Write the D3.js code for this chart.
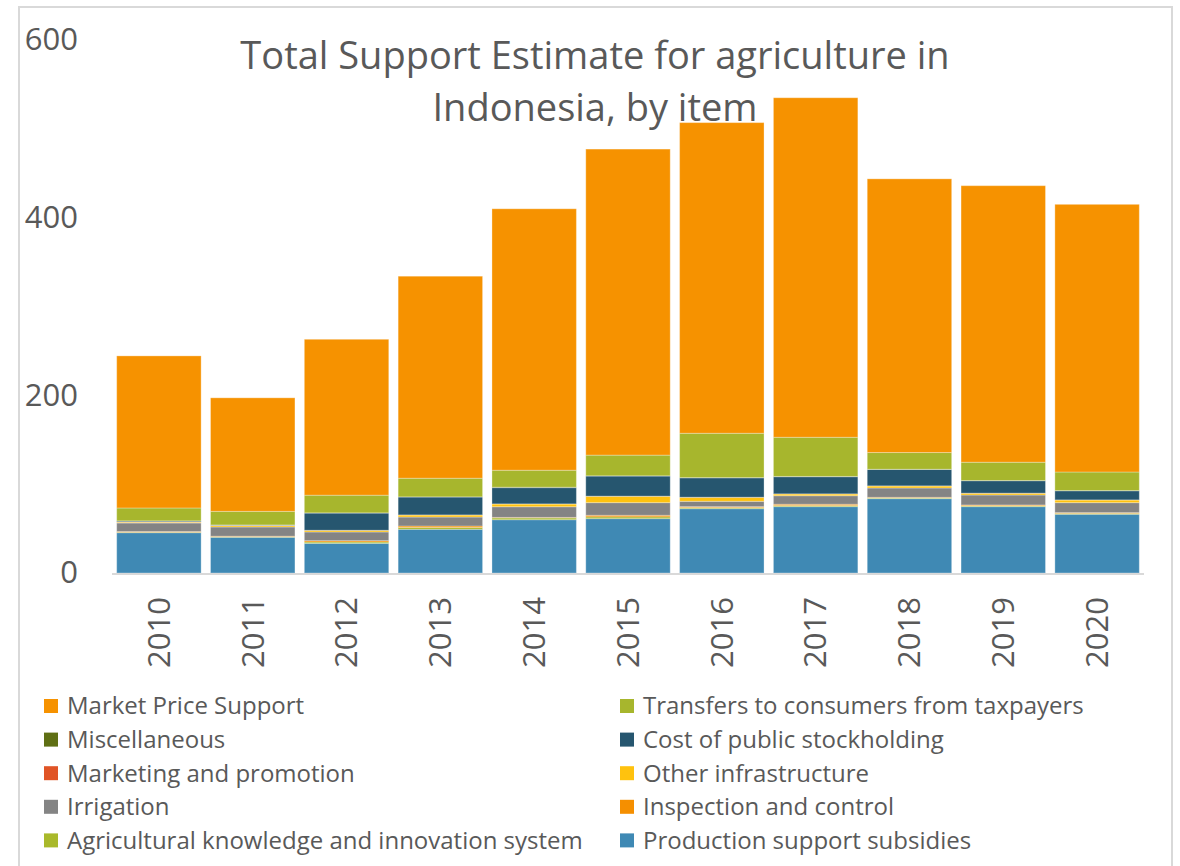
<!DOCTYPE html>
<html>
<head>
<meta charset="utf-8">
<script src="https://cdn.jsdelivr.net/npm/d3@7"></script>
<style>
  body { margin: 0; background: #fff; }
  svg { display: block; font-family: "Open Sans", sans-serif; }
</style>
</head>
<body>
<script>
// Years on the x axis
const years = ["2010", "2011", "2012", "2013", "2014", "2015", "2016", "2017", "2018", "2019", "2020"];

// Series, bottom of the stack first
const production   = [45.4, 40.2, 33.4, 49.2, 60.0, 61.2, 72.4, 74.7, 83.7, 74.7, 66.1];
const akis         = [0.5, 0.6, 1.5, 2.0, 2.0, 2.0, 1.2, 1.2, 0.8, 1.0, 1.0];
const inspection   = [0.8, 0.6, 1.5, 1.7, 0.6, 1.8, 1.1, 1.5, 0.7, 0.9, 0.9];
const irrigation   = [9.6, 10.4, 9.8, 10.1, 12.0, 14.2, 6.0, 9.6, 10.5, 11.2, 11.2];
const otherInfra   = [1.0, 1.6, 1.8, 2.3, 3.1, 7.2, 4.5, 2.0, 2.3, 2.0, 3.0];
const marketing    = [0.1, 0.1, 0.1, 0.1, 0.1, 0.1, 0.1, 0.1, 0.1, 0.1, 0.1];
const stockholding = [1.0, 0.5, 19.4, 20.2, 18.3, 22.7, 21.9, 19.3, 18.4, 14.0, 10.3];
const misc         = [0.3, 0.1, 0.2, 0.1, 0.5, 0.2, 0.2, 0.3, 0.3, 0.2, 0.2];
const transfers    = [14.5, 15.3, 19.9, 21.0, 19.1, 23.3, 49.9, 44.1, 18.8, 20.6, 20.9];
const mps          = [171.2, 127.8, 175.5, 227.4, 294.3, 344.5, 349.7, 382.2, 308.1, 311.3, 301.3];

const yTicks = [0, 200, 400, 600];

const series = [
  { name: "Production support subsidies", values: production, color: "#3F89B4" },
  { name: "Agricultural knowledge and innovation system", values: akis, color: "#A9B92B" },
  { name: "Inspection and control", values: inspection, color: "#F58F00" },
  { name: "Irrigation", values: irrigation, color: "#848484" },
  { name: "Other infrastructure", values: otherInfra, color: "#FFC20E" },
  { name: "Marketing and promotion", values: marketing, color: "#E05426" },
  { name: "Cost of public stockholding", values: stockholding, color: "#26566F" },
  { name: "Miscellaneous", values: misc, color: "#5F6F14" },
  { name: "Transfers to consumers from taxpayers", values: transfers, color: "#A7B62D" },
  { name: "Market Price Support", values: mps, color: "#F69200" }
];

// Legend order as shown in the picture (row by row, two columns)
const legendOrder = [
  "Market Price Support", "Transfers to consumers from taxpayers",
  "Miscellaneous", "Cost of public stockholding",
  "Marketing and promotion", "Other infrastructure",
  "Irrigation", "Inspection and control",
  "Agricultural knowledge and innovation system", "Production support subsidies"
];

const width = 1180, height = 866;
const textColor = "#595959";

const svg = d3.select("body").append("svg")
    .attr("width", width)
    .attr("height", height);

// chart frame
svg.append("rect")
    .attr("x", 19).attr("y", 7)
    .attr("width", 1153).attr("height", 880)
    .attr("fill", "#fff")
    .attr("stroke", "#d9d9d9")
    .attr("stroke-width", 2);

// build table for the stack
const table = years.map((yr, i) => {
  const row = { year: yr };
  series.forEach(s => row[s.name] = s.values[i]);
  return row;
});

const stack = d3.stack().keys(series.map(s => s.name));
const stacked = stack(table);

const x = d3.scaleBand()
    .domain(years)
    .range([112, 1144])
    .paddingInner(0.1)
    .paddingOuter(0.05);

const y = d3.scaleLinear()
    .domain([0, 600])
    .range([573, 40]);

const colorOf = d3.scaleOrdinal()
    .domain(series.map(s => s.name))
    .range(series.map(s => s.color));

// bars
svg.append("g")
  .selectAll("g")
  .data(stacked)
  .join("g")
    .attr("fill", d => colorOf(d.key))
  .selectAll("rect")
  .data(d => d)
  .join("rect")
    .attr("x", d => x(d.data.year))
    .attr("y", d => y(d[1]))
    .attr("width", x.bandwidth())
    .attr("height", d => y(d[0]) - y(d[1]))
    .attr("stroke", "rgba(255,255,255,0.3)")
    .attr("stroke-width", 1);

// x axis line
svg.append("line")
    .attr("x1", 112).attr("x2", 1144)
    .attr("y1", y(0) + 1).attr("y2", y(0) + 1)
    .attr("stroke", "#d9d9d9")
    .attr("stroke-width", 2);

// y axis labels
const yAxis = d3.axisLeft(y).tickValues(yTicks).tickSize(0).tickPadding(0);
svg.append("g")
    .attr("transform", "translate(78,0)")
    .call(yAxis)
    .call(g => g.select(".domain").remove())
    .call(g => g.selectAll("text")
        .attr("fill", textColor)
        .attr("font-size", 31)
        .attr("font-family", "Open Sans"));

// x axis labels (rotated)
const xAxis = d3.axisBottom(x).tickSize(0).tickPadding(0);
svg.append("g")
    .attr("transform", `translate(0,${y(0)})`)
    .call(xAxis)
    .call(g => g.select(".domain").remove())
    .call(g => g.selectAll("text")
        .attr("fill", textColor)
        .attr("font-size", 31)
        .attr("font-family", "Open Sans")
        .attr("text-anchor", "end")
        .attr("dy", "0.35em")
        .attr("transform", "translate(0,24) rotate(-90)"));

// title
const title = svg.append("text")
    .attr("text-anchor", "middle")
    .attr("fill", textColor)
    .attr("font-size", 38)
    .attr("font-family", "Open Sans");
title.append("tspan").attr("x", 595).attr("y", 69).text("Total Support Estimate for agriculture in");
title.append("tspan").attr("x", 595).attr("y", 121).text("Indonesia, by item");

// legend
const legend = svg.append("g")
  .selectAll("g")
  .data(legendOrder)
  .join("g")
    .attr("transform", (d, i) => `translate(${i % 2 === 0 ? 44 : 620},${706 + Math.floor(i / 2) * 33.6})`);

legend.append("rect")
    .attr("x", 0).attr("y", -7)
    .attr("width", 14).attr("height", 14)
    .attr("fill", d => colorOf(d));

legend.append("text")
    .attr("x", 23)
    .attr("dy", "0.35em")
    .attr("fill", textColor)
    .attr("font-size", 24)
    .text(d => d);
</script>
</body>
</html>
